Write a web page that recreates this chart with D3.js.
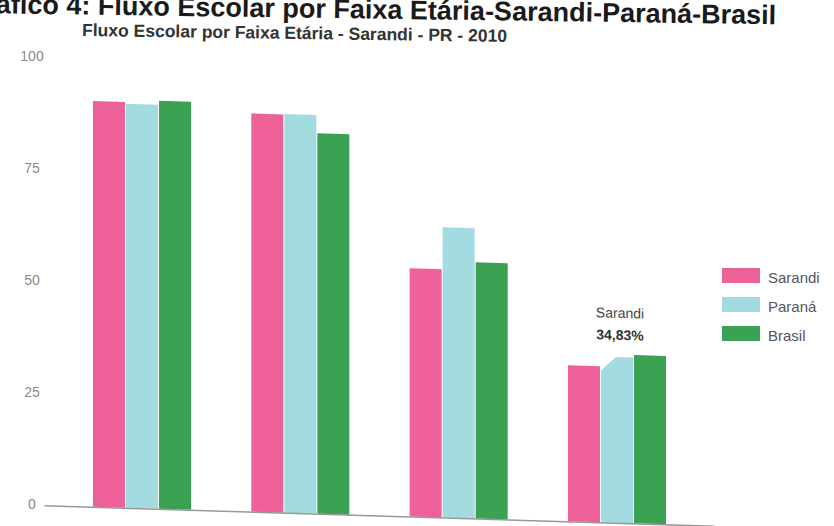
<!DOCTYPE html>
<html>
<head>
<meta charset="utf-8">
<script src="https://cdn.jsdelivr.net/npm/d3@7"></script>
<style>
  body { margin: 0; background: #fff; }
  svg { display: block; font-family: "Liberation Sans", Arial, sans-serif; }
</style>
</head>
<body>
<div id="chart"></div>
<script>
// faixas etárias (não aparecem no recorte da imagem)
var categories = ["5 a 6 anos", "11 a 13 anos", "15 a 17 anos", "18 a 20 anos"];
var series = ["Sarandi", "Paraná", "Brasil"];
var sarandi = [90.6, 88.9, 55.4, 34.83];
var parana = [90.2, 89.0, 64.8, 37.0];
var brasil = [91.1, 84.9, 57.2, 37.6];
var yTicks = [0, 25, 50, 75, 100];
var highlight = { serie: "Sarandi", idx: 3, label: "34,83%" };

var width = 834,
	height = 526,
	colors = ["#ee6198", "#a2dce1", "#3ba253"];

var values = [sarandi, parana, brasil];
var rows = categories.map(function(c, i) {
	return { cat: c, vals: series.map(function(s, j) { return { serie: s, v: values[j][i], color: colors[j] }; }) };
});

var svg = d3.select('#chart')
	.append('svg')
	.attr('width', width)
	.attr('height', height);

var x = d3.scaleBand()
	.domain(categories)
	.range([44.5, 714.5])
	.paddingInner(0.368)
	.paddingOuter(0.3);

var xs = d3.scaleBand()
	.domain(series)
	.range([0, x.bandwidth()])
	.padding(0.03);

var y = d3.scaleLinear()
	.domain([0, 100])
	.range([504, 56]);

// titles (the page was photographed with its top cut off)
svg.append('text')
	.attr('x', 776).attr('y', 19)
	.attr('text-anchor', 'end')
	.attr('transform', 'rotate(0.8, 400, 19)')
	.style('font-size', '27px').style('font-weight', 'bold').style('fill', '#1a1a1a')
	.text('Gráfico 4: Fluxo Escolar por Faixa Etária-Sarandi-Paraná-Brasil');

svg.append('text')
	.attr('x', 82).attr('y', 39)
	.attr('transform', 'rotate(0.8, 300, 39)')
	.style('font-size', '17.5px').style('font-weight', 'bold').style('fill', '#333')
	.text('Fluxo Escolar por Faixa Etária - Sarandi - PR - 2010');

// y labels (no gridlines)
svg.selectAll('.ytick')
	.data(yTicks)
	.enter().append('text')
	.attr('class', 'ytick')
	.attr('x', 32)
	.attr('y', function(d) { return y(d) + 5; })
	.attr('text-anchor', 'middle')
	.style('font-size', '14px').style('fill', '#8a8a8a')
	.text(function(d) { return d; });

// plot, slightly skewed like the photographed page
var g = svg.append('g').attr('transform', 'skewY(1.75)');

var groups = g.selectAll('.grp')
	.data(rows)
	.enter().append('g')
	.attr('class', 'grp')
	.attr('transform', function(d) { return 'translate(' + x(d.cat) + ',0)'; });

groups.selectAll('rect')
	.data(function(d) { return d.vals; })
	.enter().append('rect')
	.attr('x', function(d) { return xs(d.serie); })
	.attr('y', function(d) { return y(d.v); })
	.attr('width', xs.bandwidth())
	.attr('height', function(d) { return y(0) - y(d.v); })
	.style('fill', function(d) { return d.color; });

g.append('line')
	.attr('x1', x.range()[0]).attr('x2', x.range()[1])
	.attr('y1', y(0) + 0.5).attr('y2', y(0) + 0.5)
	.style('stroke', '#999').style('stroke-width', 1.5);

// tooltip
var hc = categories[highlight.idx],
	hv = values[series.indexOf(highlight.serie)][highlight.idx],
	cx = x(hc) + x.bandwidth() / 2,
	pv = parana[highlight.idx],
	px0 = x(hc) + xs('Paraná');

g.append('path')
	.attr('d', 'M' + px0 + ',' + (y(pv) + 14) + 'L' + px0 + ',' + (y(pv) - 4) + 'L' + (px0 + 19) + ',' + (y(pv) - 4) + 'Z')
	.style('fill', '#fff');

g.append('text')
	.attr('x', cx + 3).attr('y', y(hv) - 49)
	.attr('text-anchor', 'middle')
	.style('font-size', '14px').style('fill', '#444')
	.text(highlight.serie);

g.append('text')
	.attr('x', cx + 3).attr('y', y(hv) - 27)
	.attr('text-anchor', 'middle')
	.style('font-size', '14px').style('font-weight', 'bold').style('fill', '#333')
	.text(highlight.label);

// legend
var legend = svg.selectAll('.leg')
	.data(series)
	.enter().append('g')
	.attr('class', 'leg')
	.attr('transform', function(d, i) { return 'translate(722,' + (268 + i * 29) + ')'; });

legend.append('rect')
	.attr('width', 38).attr('height', 15)
	.style('fill', function(d, i) { return colors[i]; });

legend.append('text')
	.attr('x', 46).attr('y', 15)
	.style('font-size', '15px').style('fill', '#555')
	.text(function(d) { return d; });
</script>
</body>
</html>
